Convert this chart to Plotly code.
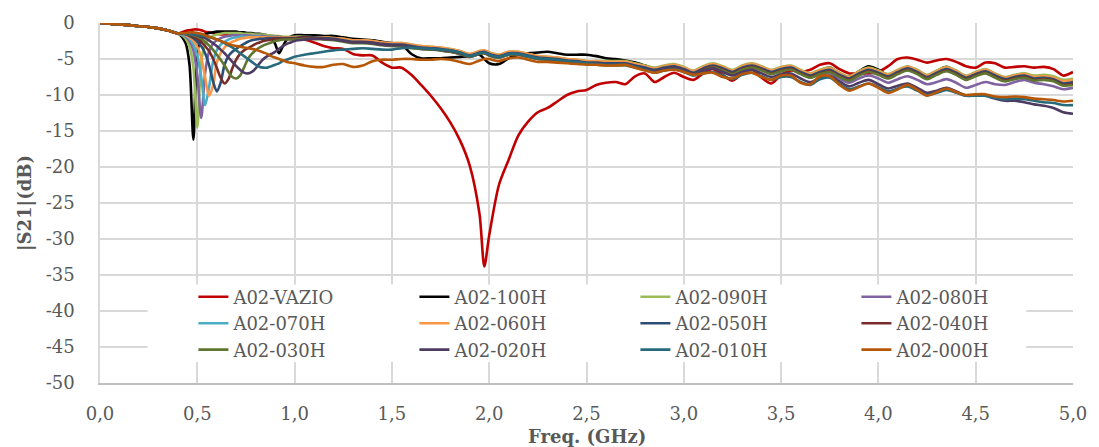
import plotly.graph_objects as go

# ---------------- data ----------------
FREQ_A = [0.00, 0.05, 0.10, 0.15, 0.20, 0.25, 0.30, 0.35, 0.40]
FREQ_B = [round(0.42 + 0.02 * i, 2) for i in range(30)]            # 0.42 .. 1.00
FREQ_C = [round(1.05 + 0.05 * i, 2) for i in range(19)] + [1.975] + \
         [round(2.00 + 0.05 * i, 2) for i in range(61)]             # 1.05 .. 5.00
FREQ = FREQ_A + FREQ_B + FREQ_C

SERIES_NAMES = ["A02-VAZIO", "A02-100H", "A02-090H", "A02-080H",
                "A02-070H", "A02-060H", "A02-050H", "A02-040H",
                "A02-030H", "A02-020H", "A02-010H", "A02-000H"]
SERIES_COLORS = ["#C00000", "#000000", "#9BBB59", "#8064A2",
                 "#4BACC6", "#F79646", "#2C4D75", "#772C2A",
                 "#5F7530", "#4D3B62", "#276A7C", "#B65708"]

START = [0.0, -0.1, -0.2, -0.3, -0.45, -0.55, -0.75, -1.05, -1.45]

VAZIO = START + [
    -1.3, -1.1, -1.0, -0.9, -0.9, -1.0, -1.2, -1.3, -1.4, -1.5,
    -1.6, -1.6, -1.6, -1.6, -1.7, -1.7, -1.7, -1.8, -1.8, -1.8,
    -1.8, -1.9, -1.9, -1.9, -1.9, -2.0, -2.0, -2.0, -2.0, -2.0,
    -2.3, -2.7, -3.2, -3.5, -3.6, -4.3, -4.5, -4.5, -5.5, -6.2,
    -6.2, -7.2, -8.6, -10.1, -11.8, -13.8, -16.3, -19.8, -26.5, -33.8, -29.5,
    -22.5, -19.0, -15.6, -13.7, -12.4, -11.8, -10.9, -10.0, -9.5, -9.3,
    -8.6, -8.3, -8.2, -8.5, -7.4, -7.0, -8.2, -7.5, -6.9, -7.5,
    -7.9, -7.0, -6.4, -7.2, -8.0, -7.0, -6.5, -7.6, -8.4, -7.2,
    -6.6, -6.8, -6.5, -5.8, -5.6, -6.4, -7.0, -7.0, -7.0, -6.8,
    -6.0, -5.0, -4.8, -5.1, -5.5, -5.2, -5.0, -5.4, -6.0, -6.2,
    -5.5, -5.6, -6.2, -6.1, -6.0, -6.2, -6.1, -6.4, -7.3, -6.8]

H100 = START + [
    -1.9, -2.8, -5.8, -16.2, -4.0, -2.2, -1.6, -1.4, -1.3, -1.2,
    -1.2, -1.2, -1.2, -1.2, -1.2, -1.3, -1.3, -1.4, -1.4, -1.5,
    -1.5, -1.6, -1.7, -2.0, -2.9, -4.2, -3.2, -2.3, -1.9, -1.7,
    -1.7, -1.7, -1.8, -1.8, -2.0, -2.2, -2.3, -2.4, -2.6, -2.8,
    -3.0, -4.3, -4.9, -4.9, -4.9, -4.8, -4.7, -4.6, -4.4, -5.0, -5.6,
    -5.7, -4.9, -4.4, -4.2, -4.1, -4.0, -4.2, -4.4, -4.4, -4.4,
    -4.6, -4.9, -5.0, -5.2, -5.5, -5.9, -6.3, -6.0, -5.8, -6.2,
    -6.8, -6.1, -5.7, -6.2, -6.8, -6.0, -5.7, -6.2, -6.8, -6.3,
    -6.0, -6.6, -7.2, -6.6, -6.2, -7.0, -7.6, -6.7, -6.0, -6.5,
    -7.2, -6.6, -6.1, -6.7, -7.5, -6.7, -6.1, -6.8, -7.6, -7.0,
    -6.5, -7.1, -7.7, -7.3, -7.1, -7.5, -7.4, -7.6, -8.2, -7.9]

H090 = START + [
    -1.7, -2.2, -3.3, -6.2, -14.5, -5.5, -3.0, -2.2, -1.8, -1.6,
    -1.5, -1.4, -1.4, -1.4, -1.4, -1.4, -1.5, -1.5, -1.5, -1.6,
    -1.6, -1.6, -1.7, -1.7, -1.8, -1.8, -1.9, -1.9, -1.9, -1.9,
    -1.9, -2.0, -2.0, -2.1, -2.2, -2.4, -2.4, -2.5, -2.7, -2.8,
    -2.8, -3.0, -3.2, -3.3, -3.4, -3.6, -3.9, -4.3, -3.9, -3.8, -4.1,
    -4.4, -4.0, -4.0, -4.3, -4.6, -4.7, -4.8, -5.0, -5.1, -5.3,
    -5.3, -5.3, -5.3, -5.3, -5.6, -5.9, -6.2, -5.9, -5.7, -6.1,
    -6.6, -6.0, -5.6, -6.0, -6.5, -5.9, -5.6, -6.0, -6.5, -6.1,
    -5.9, -6.5, -7.0, -6.5, -6.2, -6.9, -7.4, -6.7, -6.2, -6.6,
    -7.1, -6.5, -6.0, -6.5, -7.2, -6.6, -6.1, -6.6, -7.3, -6.8,
    -6.4, -7.0, -7.5, -7.2, -7.0, -7.3, -7.2, -7.4, -7.9, -7.7]

H080 = START + [
    -1.6, -1.9, -2.5, -3.8, -7.2, -13.2, -7.0, -4.0, -2.9, -2.4,
    -2.1, -1.9, -1.8, -1.7, -1.7, -1.7, -1.7, -1.7, -1.8, -1.8,
    -1.8, -1.8, -1.9, -1.9, -1.9, -1.9, -2.0, -2.0, -2.0, -2.0,
    -2.0, -2.1, -2.2, -2.3, -2.5, -2.7, -2.7, -2.8, -3.0, -3.1,
    -3.1, -3.3, -3.5, -3.6, -3.7, -3.9, -4.2, -4.6, -4.2, -4.1, -4.4,
    -4.7, -4.3, -4.3, -4.6, -4.9, -5.0, -5.1, -5.3, -5.4, -5.6,
    -5.6, -5.7, -5.7, -5.7, -6.0, -6.3, -6.6, -6.3, -6.1, -6.5,
    -7.0, -6.4, -6.0, -6.4, -6.9, -6.3, -6.0, -6.4, -6.9, -6.5,
    -6.4, -7.0, -7.6, -7.1, -6.9, -7.7, -8.3, -7.7, -7.3, -7.7,
    -8.3, -7.8, -7.4, -7.9, -8.5, -8.2, -7.8, -8.3, -9.0, -8.6,
    -8.2, -8.5, -8.6, -8.2, -7.9, -8.3, -8.5, -8.8, -9.2, -9.0]

H070 = START + [
    -1.6, -1.8, -2.2, -3.0, -4.5, -7.5, -11.4, -9.0, -5.5, -3.8,
    -3.0, -2.6, -2.3, -2.1, -2.0, -1.9, -1.9, -1.9, -1.9, -1.9,
    -1.9, -2.0, -2.0, -2.0, -2.0, -2.0, -2.0, -2.1, -2.1, -2.1,
    -2.1, -2.1, -2.2, -2.3, -2.5, -2.6, -2.7, -2.8, -2.9, -3.0,
    -3.0, -3.2, -3.4, -3.5, -3.6, -3.8, -4.1, -4.5, -4.1, -4.0, -4.3,
    -4.6, -4.2, -4.2, -4.5, -4.8, -4.9, -5.0, -5.2, -5.3, -5.5,
    -5.5, -5.6, -5.6, -5.6, -5.9, -6.2, -6.5, -6.2, -6.0, -6.4,
    -6.9, -6.3, -5.9, -6.3, -6.8, -6.2, -5.9, -6.3, -6.8, -6.4,
    -6.2, -6.8, -7.3, -6.8, -6.5, -7.2, -7.7, -7.0, -6.5, -6.9,
    -7.4, -6.8, -6.3, -6.8, -7.5, -6.9, -6.4, -6.9, -7.6, -7.1,
    -6.6, -7.2, -7.7, -7.4, -7.2, -7.6, -7.5, -7.7, -8.2, -8.0]

H060 = START + [
    -1.5, -1.7, -2.0, -2.5, -3.3, -4.8, -7.5, -10.1, -8.8, -5.5,
    -4.2, -3.4, -2.9, -2.6, -2.4, -2.2, -2.1, -2.0, -2.0, -2.0,
    -2.0, -2.0, -2.0, -2.0, -2.0, -2.0, -2.0, -2.0, -2.0, -2.0,
    -2.0, -2.0, -2.0, -2.1, -2.2, -2.4, -2.4, -2.5, -2.7, -2.8,
    -2.8, -3.0, -3.2, -3.3, -3.4, -3.6, -3.9, -4.3, -3.9, -3.8, -4.1,
    -4.4, -4.0, -4.0, -4.3, -4.6, -4.7, -4.8, -5.0, -5.1, -5.3,
    -5.3, -5.4, -5.4, -5.4, -5.7, -6.0, -6.3, -6.0, -5.8, -6.2,
    -6.7, -6.1, -5.7, -6.1, -6.6, -6.0, -5.7, -6.1, -6.6, -6.2,
    -6.0, -6.6, -7.1, -6.6, -6.3, -7.0, -7.5, -6.8, -6.3, -6.7,
    -7.2, -6.6, -6.1, -6.6, -7.3, -6.7, -6.2, -6.7, -7.4, -6.9,
    -6.5, -7.1, -7.6, -7.3, -7.1, -7.5, -7.4, -7.6, -8.1, -7.9]

H050 = START + [
    -1.5, -1.6, -1.8, -2.1, -2.6, -3.2, -4.2, -5.8, -8.0, -9.5,
    -8.3, -5.8, -4.6, -4.0, -3.6, -3.2, -2.9, -2.6, -2.4, -2.3,
    -2.2, -2.2, -2.1, -2.1, -2.1, -2.1, -2.1, -2.1, -2.1, -2.1,
    -1.9, -2.0, -2.1, -2.2, -2.4, -2.6, -2.6, -2.7, -2.9, -3.0,
    -3.0, -3.2, -3.4, -3.5, -3.6, -3.8, -4.1, -4.5, -4.1, -4.0, -4.3,
    -4.6, -4.2, -4.2, -4.5, -4.8, -4.9, -5.0, -5.2, -5.3, -5.5,
    -5.5, -5.6, -5.6, -5.6, -5.9, -6.2, -6.5, -6.2, -6.0, -6.4,
    -6.9, -6.3, -5.9, -6.3, -6.8, -6.2, -5.9, -6.3, -6.8, -6.4,
    -6.2, -6.8, -7.3, -6.8, -6.5, -7.2, -7.7, -7.0, -6.5, -6.9,
    -7.4, -6.8, -6.3, -6.8, -7.5, -6.9, -6.4, -6.9, -7.6, -7.1,
    -6.7, -7.3, -7.8, -7.5, -7.3, -7.7, -7.6, -7.8, -8.4, -8.2]

H040 = START + [
    -1.5, -1.5, -1.7, -1.9, -2.2, -2.6, -3.2, -3.9, -4.9, -6.2,
    -7.6, -8.4, -7.8, -6.3, -5.1, -4.3, -3.8, -3.5, -3.2, -2.9,
    -2.7, -2.5, -2.4, -2.3, -2.2, -2.2, -2.2, -2.2, -2.2, -2.2,
    -2.0, -2.1, -2.2, -2.3, -2.5, -2.7, -2.7, -2.8, -3.0, -3.1,
    -3.2, -3.4, -3.6, -3.7, -3.8, -4.0, -4.3, -4.7, -4.3, -4.2, -4.5,
    -4.8, -4.4, -4.4, -4.7, -5.0, -5.1, -5.2, -5.4, -5.5, -5.7,
    -5.7, -5.8, -5.8, -5.8, -6.1, -6.4, -6.7, -6.4, -6.2, -6.6,
    -7.1, -6.5, -6.1, -6.5, -7.0, -6.4, -6.1, -6.5, -7.0, -6.6,
    -6.4, -7.0, -7.5, -7.0, -6.7, -7.4, -7.9, -7.2, -6.7, -7.1,
    -7.6, -7.0, -6.5, -7.0, -7.7, -7.1, -6.6, -7.1, -7.8, -7.3,
    -6.9, -7.5, -8.0, -7.7, -7.5, -7.9, -7.8, -8.0, -8.6, -8.4]

H030 = START + [
    -1.5, -1.5, -1.6, -1.7, -1.9, -2.2, -2.6, -3.1, -3.7, -4.4,
    -5.1, -5.9, -6.8, -7.5, -7.7, -7.3, -6.2, -5.0, -4.3, -3.8,
    -3.4, -3.1, -2.9, -2.7, -2.5, -2.4, -2.3, -2.3, -2.3, -2.3,
    -2.2, -2.2, -2.3, -2.4, -2.6, -2.8, -2.8, -2.9, -3.1, -3.2,
    -3.3, -3.5, -3.6, -3.7, -3.8, -4.0, -4.3, -4.7, -4.3, -4.2, -4.5,
    -4.8, -4.4, -4.4, -4.7, -5.0, -5.1, -5.2, -5.4, -5.5, -5.7,
    -5.8, -5.9, -5.9, -5.9, -6.2, -6.5, -6.8, -6.5, -6.3, -6.7,
    -7.2, -6.6, -6.2, -6.6, -7.1, -6.5, -6.2, -6.6, -7.1, -6.7,
    -6.5, -7.1, -7.6, -7.1, -6.8, -7.5, -8.0, -7.3, -6.8, -7.2,
    -7.7, -7.1, -6.6, -7.1, -7.8, -7.2, -6.7, -7.2, -7.9, -7.4,
    -7.0, -7.6, -8.1, -7.8, -7.6, -8.0, -7.9, -8.1, -8.7, -8.6]

H020 = START + [
    -1.5, -1.5, -1.5, -1.6, -1.7, -1.9, -2.1, -2.4, -2.8, -3.2,
    -3.7, -4.2, -4.8, -5.4, -6.0, -6.5, -6.9, -7.0, -6.8, -6.3,
    -5.6, -5.0, -4.6, -4.3, -4.0, -3.6, -3.2, -2.9, -2.7, -2.5,
    -2.3, -2.2, -2.2, -2.3, -2.5, -2.7, -2.7, -2.8, -3.0, -3.1,
    -3.1, -3.3, -3.5, -3.6, -3.7, -3.9, -4.2, -4.6, -4.2, -4.1, -4.4,
    -4.7, -4.3, -4.3, -4.6, -4.9, -5.0, -5.1, -5.3, -5.4, -5.6,
    -5.6, -5.7, -5.7, -5.7, -6.0, -6.4, -6.7, -6.4, -6.2, -6.6,
    -7.1, -6.6, -6.3, -6.8, -7.3, -6.8, -6.5, -7.0, -7.5, -7.1,
    -7.0, -7.7, -8.2, -7.6, -7.3, -8.1, -8.8, -8.3, -7.9, -8.5,
    -9.1, -8.7, -8.4, -9.0, -9.7, -9.4, -9.0, -9.5, -10.1, -10.0,
    -10.1, -10.5, -10.8, -10.8, -11.0, -11.3, -11.5, -11.8, -12.4, -12.6]

H010 = START + [
    -1.5, -1.5, -1.5, -1.6, -1.6, -1.7, -1.8, -1.9, -2.1, -2.3,
    -2.5, -2.8, -3.1, -3.4, -3.8, -4.2, -4.6, -5.0, -5.4, -5.8,
    -6.1, -6.2, -6.2, -6.0, -5.8, -5.6, -5.3, -5.1, -4.9, -4.7,
    -4.4, -4.2, -4.0, -3.8, -3.7, -3.6, -3.5, -3.6, -3.7, -3.7,
    -3.5, -3.4, -3.5, -3.6, -3.7, -3.8, -4.1, -4.6, -4.2, -4.1, -4.4,
    -4.7, -4.3, -4.3, -4.6, -4.9, -5.0, -5.1, -5.3, -5.4, -5.6,
    -5.7, -5.8, -5.8, -5.8, -6.1, -6.5, -6.9, -6.6, -6.4, -6.8,
    -7.3, -7.0, -6.8, -7.3, -7.8, -7.2, -6.9, -7.4, -7.9, -7.5,
    -7.5, -8.2, -8.6, -7.8, -7.6, -8.5, -9.2, -8.8, -8.4, -8.9,
    -9.5, -9.1, -8.8, -9.4, -10.0, -9.7, -9.3, -9.7, -10.1, -10.1,
    -10.1, -10.4, -10.6, -10.5, -10.6, -10.8, -11.0, -11.1, -11.4, -11.4]

H000 = START + [
    -1.4, -1.4, -1.3, -1.3, -1.4, -1.5, -1.7, -1.9, -2.1, -2.3,
    -2.5, -2.7, -2.9, -3.1, -3.2, -3.3, -3.4, -3.5, -3.6, -3.7,
    -3.9, -4.1, -4.3, -4.6, -4.8, -5.0, -5.2, -5.4, -5.5, -5.6,
    -5.9, -6.1, -6.1, -5.8, -5.7, -6.1, -5.9, -5.3, -5.1, -5.1,
    -5.0, -5.0, -5.1, -5.1, -5.0, -5.1, -5.4, -5.7, -5.2, -5.0, -5.0,
    -5.3, -4.9, -4.8, -5.1, -5.4, -5.4, -5.5, -5.6, -5.7, -5.8,
    -5.8, -5.9, -5.9, -5.8, -6.2, -6.6, -6.9, -6.6, -6.5, -6.8,
    -7.2, -7.0, -6.9, -7.5, -7.7, -7.1, -6.9, -7.5, -7.9, -7.3,
    -7.3, -8.3, -8.5, -7.4, -7.4, -8.6, -9.4, -8.9, -8.4, -9.0,
    -9.7, -9.2, -8.6, -9.3, -10.1, -9.6, -9.1, -9.6, -10.0, -9.9,
    -9.9, -10.2, -10.3, -10.2, -10.3, -10.5, -10.6, -10.7, -10.9, -10.8]

SERIES_VALUES = [VAZIO, H100, H090, H080, H070, H060, H050, H040,
                 H030, H020, H010, H000]

X_TICKS = [0.0, 0.5, 1.0, 1.5, 2.0, 2.5, 3.0, 3.5, 4.0, 4.5, 5.0]
X_TICK_LABELS = ["0,0", "0,5", "1,0", "1,5", "2,0", "2,5",
                 "3,0", "3,5", "4,0", "4,5", "5,0"]
Y_TICKS = [0, -5, -10, -15, -20, -25, -30, -35, -40, -45, -50]
Y_TICK_LABELS = ["0", "-5", "-10", "-15", "-20", "-25",
                 "-30", "-35", "-40", "-45", "-50"]

for vals in SERIES_VALUES:
    assert len(vals) == len(FREQ), (len(vals), len(FREQ))

# ---------------- figure ----------------
FONT = "DejaVu Serif"
GREY = "#595959"

fig = go.Figure()
for name, color, vals in zip(SERIES_NAMES, SERIES_COLORS, SERIES_VALUES):
    fig.add_trace(go.Scatter(
        x=FREQ, y=vals, mode="lines", name=name,
        line=dict(color=color, width=2.6, shape="spline", smoothing=0.8),
    ))

fig.update_layout(
    width=1099, height=447,
    margin=dict(l=100, r=19, t=21, b=64),
    paper_bgcolor="white", plot_bgcolor="white",
    font=dict(family=FONT, size=18, color=GREY),
    showlegend=True,
    legend=dict(
        orientation="h", x=0.096, xanchor="left", y=0.29, yanchor="top",
        entrywidth=176, entrywidthmode="pixels",
        bgcolor="rgba(0,0,0,0)", borderwidth=0,
        font=dict(family=FONT, size=18, color=GREY),
        traceorder="normal", itemwidth=30,
    ),
    xaxis=dict(
        range=[0, 5], tickvals=X_TICKS, ticktext=X_TICK_LABELS,
        showgrid=True, gridcolor="#D9D9D9", gridwidth=1.5,
        showline=True, linecolor="#BFBFBF", linewidth=1.5,
        zeroline=False, ticks="", ticklabelstandoff=14,
        tickfont=dict(family=FONT, size=18, color=GREY),
    ),
    yaxis=dict(
        range=[-50, 0], tickvals=Y_TICKS, ticktext=Y_TICK_LABELS,
        showgrid=True, gridcolor="#D9D9D9", gridwidth=1.5,
        showline=True, linecolor="#D9D9D9", linewidth=1.5,
        zeroline=False, ticks="", ticklabelstandoff=20,
        tickfont=dict(family=FONT, size=18, color=GREY),
    ),
    shapes=[dict(
        type="rect", xref="paper", yref="paper",
        x0=0.049, x1=0.952, y0=0.058, y1=0.2735,
        fillcolor="white", line=dict(width=0), layer="above",
    )],
    annotations=[
        dict(text="<b>Freq. (GHz)</b>", xref="paper", yref="paper",
             x=0.5, y=0, xanchor="center", yanchor="top", yshift=-41,
             showarrow=False, font=dict(family=FONT, size=18, color=GREY)),
        dict(text="<b>|S21|(dB)</b>", xref="paper", yref="paper",
             x=0, y=0.5, xanchor="center", yanchor="middle", xshift=-75,
             textangle=-90, showarrow=False,
             font=dict(family=FONT, size=18, color=GREY)),
    ],
)

fig.write_html("out.html")
